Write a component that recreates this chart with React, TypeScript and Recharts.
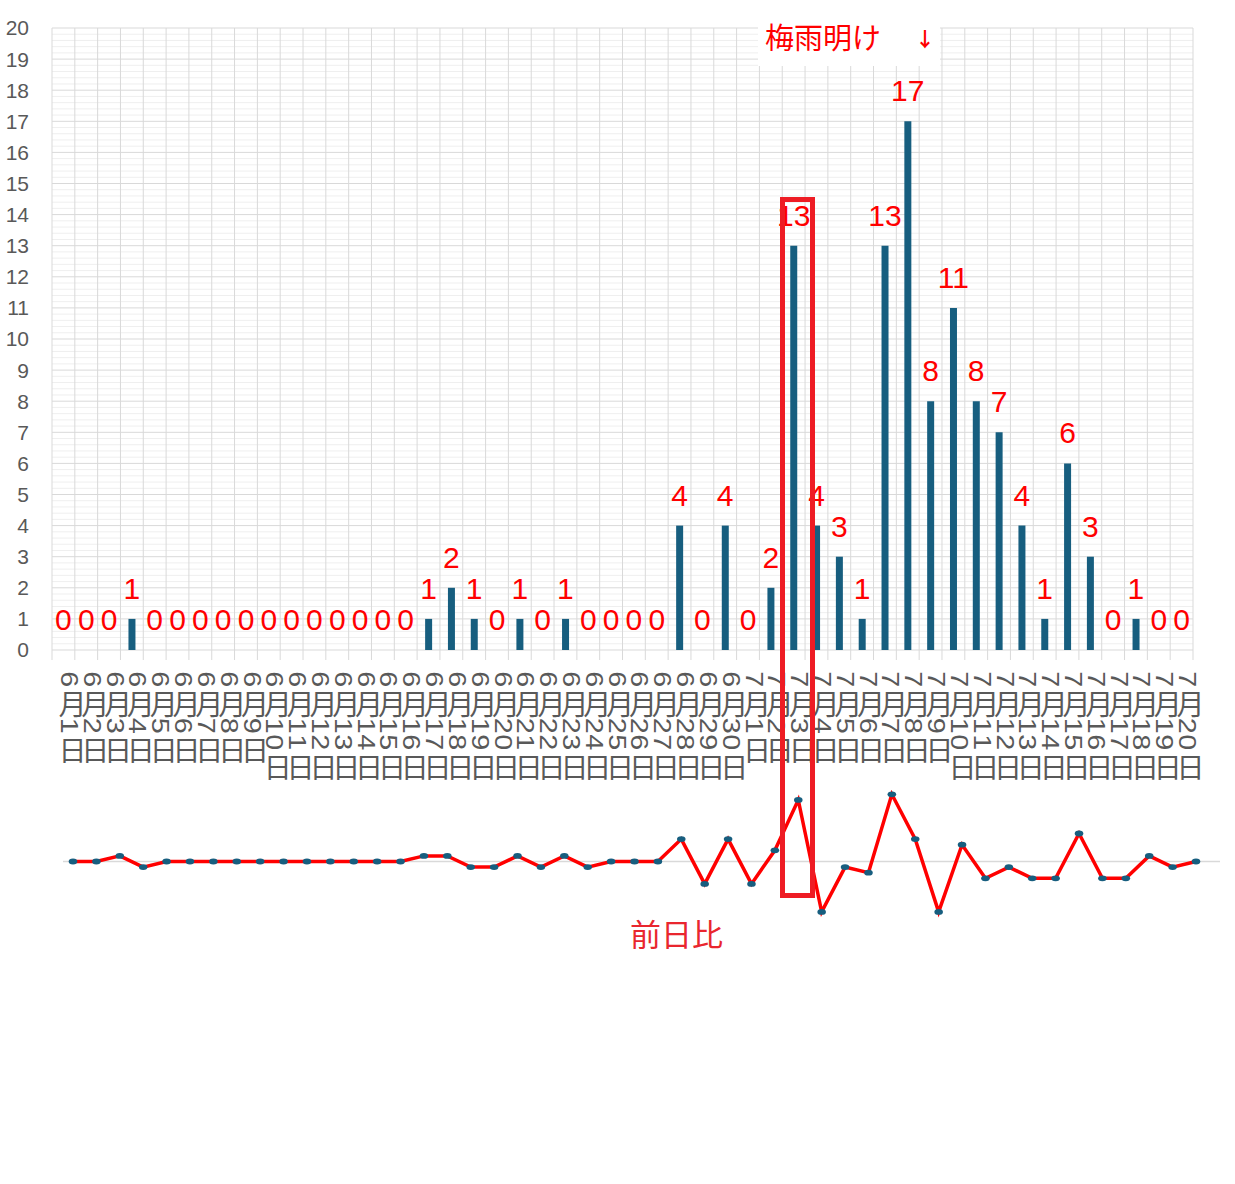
import React from 'react';
import {
  ComposedChart, Bar, XAxis, YAxis, CartesianGrid, LabelList,
  LineChart, Line, ReferenceLine,
} from 'recharts';

const CATEGORIES = [
  '6月1日', '6月2日', '6月3日', '6月4日', '6月5日', '6月6日', '6月7日', '6月8日', '6月9日', '6月10日',
  '6月11日', '6月12日', '6月13日', '6月14日', '6月15日', '6月16日', '6月17日', '6月18日', '6月19日', '6月20日',
  '6月21日', '6月22日', '6月23日', '6月24日', '6月25日', '6月26日', '6月27日', '6月28日', '6月29日', '6月30日',
  '7月1日', '7月2日', '7月3日', '7月4日', '7月5日', '7月6日', '7月7日', '7月8日', '7月9日', '7月10日',
  '7月11日', '7月12日', '7月13日', '7月14日', '7月15日', '7月16日', '7月17日', '7月18日', '7月19日', '7月20日',
];

const CASES = [
  0, 0, 0, 1, 0, 0, 0, 0, 0, 0,
  0, 0, 0, 0, 0, 0, 1, 2, 1, 0,
  1, 0, 1, 0, 0, 0, 0, 4, 0, 4,
  0, 2, 13, 4, 3, 1, 13, 17, 8, 11,
  8, 7, 4, 1, 6, 3, 0, 1, 0, 0,
];

// 前日比 (from 6月2日 to 7月20日)
const DIFF_CATEGORIES = CATEGORIES.slice(1);
const DIFF = [
  0, 0, 1, -1, 0, 0, 0, 0, 0, 0,
  0, 0, 0, 0, 0, 1, 1, -1, -1, 1,
  -1, 1, -1, 0, 0, 0, 4, -4, 4, -4,
  2, 11, -9, -1, -2, 12, 4, -9, 3, -3,
  -1, -3, -3, 5, -3, -3, 1, -1, 0,
];

const Y_TICKS = [0, 1, 2, 3, 4, 5, 6, 7, 8, 9, 10, 11, 12, 13, 14, 15, 16, 17, 18, 19, 20];
const Y_MAX = 20;
const DIFF_DOMAIN = [-12, 12];

const ANNOTATION_TOP = '梅雨明け';
const ANNOTATION_ARROW = '↓';
const LINE_LABEL = '前日比';

const barData = CATEGORIES.map((c, i) => ({ cat: c, cases: CASES[i] }));
const lineData = DIFF_CATEGORIES.map((c, i) => ({ cat: c, diff: DIFF[i] }));

const W = 1235;
const BAR_H = 790;
const M_TOP = 28;
const M_RIGHT = 42;
const Y_W = 52;
const X_H = 140;
const PLOT_W = W - Y_W - M_RIGHT;
const BAND = PLOT_W / CATEGORIES.length;

const FONT = "'Liberation Sans', 'Noto Sans CJK JP', sans-serif";
const CJK = "'Noto Sans CJK JP', sans-serif";
const GRID = '#d9d9d9';
const MINOR = '#efefef';
const AXIS_TEXT = '#595959';
const BAR_COLOR = '#175e7f';

const DIGIT_ADV = 16.5;
const CJK_ADV = 30;

const XTick = (props: any) => {
  const { x, y, payload, index } = props;
  const half = BAND / 2;
  const tokens: string[] = String(payload.value).match(/\d+|\D/g) || [];
  let cur = y + 21;
  const els: any[] = [];
  tokens.forEach((tok, ti) => {
    if (/\d/.test(tok)) {
      tok.split('').forEach((ch, ci) => {
        const cy = cur + DIGIT_ADV / 2;
        els.push(
          <text
            key={`d${ti}-${ci}`}
            transform={`translate(${x + 5.5},${cy}) rotate(90) scale(1.25,1)`}
            textAnchor="middle"
            dominantBaseline="central"
            fontSize={23}
            fontFamily={FONT}
            fill={AXIS_TEXT}
          >
            {ch}
          </text>
        );
        cur += DIGIT_ADV;
      });
    } else {
      const cy = cur + CJK_ADV / 2;
      els.push(
        <text
          key={`c${ti}`}
          x={x + 9}
          y={cy}
          textAnchor="middle"
          dominantBaseline="central"
          fontSize={28}
          fontFamily={CJK}
          fill={AXIS_TEXT}
        >
          {tok}
        </text>
      );
      cur += CJK_ADV;
    }
  });
  return (
    <g>
      <line x1={x - half} x2={x - half} y1={y} y2={y + 10} stroke={GRID} strokeWidth={1} />
      {index === CATEGORIES.length - 1 && (
        <line x1={x + half} x2={x + half} y1={y} y2={y + 10} stroke={GRID} strokeWidth={1} />
      )}
      {els}
    </g>
  );
};

const Dot = (props: any) => {
  const { cx, cy, index } = props;
  if (cx == null || cy == null) return null;
  return <ellipse key={`d${index}`} cx={cx} cy={cy} rx={4.3} ry={2.9} fill={BAR_COLOR} />;
};

export default function App() {
  const majorH = ({ offset }: any) =>
    Y_TICKS.map((v) => offset.top + offset.height * (1 - v / Y_MAX));
  const minorH = ({ offset }: any) => {
    const res: number[] = [];
    for (let k = 0; k <= Y_MAX * 5; k++) {
      if (k % 5 !== 0) res.push(offset.top + offset.height * (1 - k / (Y_MAX * 5)));
    }
    return res;
  };
  const vert = ({ offset }: any) =>
    Array.from({ length: CATEGORIES.length + 1 }, (_, i) => offset.left + (i * offset.width) / CATEGORIES.length);

  return (
    <div style={{ position: 'absolute', left: 0, top: 0, width: W, height: 1184, background: '#fff' }}>
      <div style={{ position: 'absolute', left: 0, top: 0 }}>
        <ComposedChart
          width={W}
          height={BAR_H}
          data={barData}
          margin={{ top: M_TOP, right: M_RIGHT, left: 0, bottom: 0 }}
        >
          <CartesianGrid stroke={MINOR} vertical={false} horizontalCoordinatesGenerator={minorH} />
          <CartesianGrid stroke={GRID} horizontalCoordinatesGenerator={majorH} verticalCoordinatesGenerator={vert} />
          <XAxis
            dataKey="cat"
            interval={0}
            height={X_H}
            tickSize={0}
            tickMargin={0}
            axisLine={false}
            tickLine={false}
            tick={<XTick />}
          />
          <YAxis
            width={Y_W}
            domain={[0, Y_MAX]}
            ticks={Y_TICKS}
            interval={0}
            axisLine={false}
            tickLine={false}
            tickSize={6}
            tickMargin={17}
            tick={{ fill: AXIS_TEXT, fontSize: 21, fontFamily: FONT }}
          />
          <Bar dataKey="cases" fill={BAR_COLOR} barSize={7} isAnimationActive={false} />
          <Line
            dataKey="cases"
            stroke="none"
            dot={false}
            activeDot={false}
            isAnimationActive={false}
          >
            <LabelList
              dataKey="cases"
              position="top"
              offset={20}
              fill="#ff0000"
              fontSize={30}
              fontFamily={FONT}
            />
          </Line>
        </ComposedChart>
      </div>

      <div style={{ position: 'absolute', left: 0, top: 780 }}>
        <LineChart
          width={W}
          height={170}
          data={lineData}
          margin={{ top: 14.3, right: 15, left: 63, bottom: 21.3 }}
        >
          <XAxis dataKey="cat" hide padding={{ left: 10, right: 24 }} />
          <YAxis hide domain={DIFF_DOMAIN} />
          <ReferenceLine y={0} stroke={GRID} strokeWidth={1.5} />
          <Line
            type="linear"
            dataKey="diff"
            stroke="#ff0000"
            strokeWidth={3.5}
            dot={<Dot />}
            activeDot={false}
            isAnimationActive={false}
          />
        </LineChart>
      </div>

      <svg
        width={W}
        height={1184}
        style={{ position: 'absolute', left: 0, top: 0, pointerEvents: 'none' }}
      >
        <rect x={758} y={14} width={182} height={52} fill="#ffffff" />
        <text x={765} y={48.5} fill="#ff0000" fontSize={29} fontFamily={CJK}>{ANNOTATION_TOP}</text>
        <text x={925} y={47} fill="#ff0000" fontSize={20} fontWeight={700} fontFamily={CJK} textAnchor="middle">{ANNOTATION_ARROW}</text>
        <text x={630} y={946} fill="#e9262e" fontSize={31} fontFamily={CJK}>{LINE_LABEL}</text>
        <rect x={782.5} y={199.5} width={30} height={696} fill="none" stroke="#ee1c24" strokeWidth={5} />
      </svg>
    </div>
  );
}
